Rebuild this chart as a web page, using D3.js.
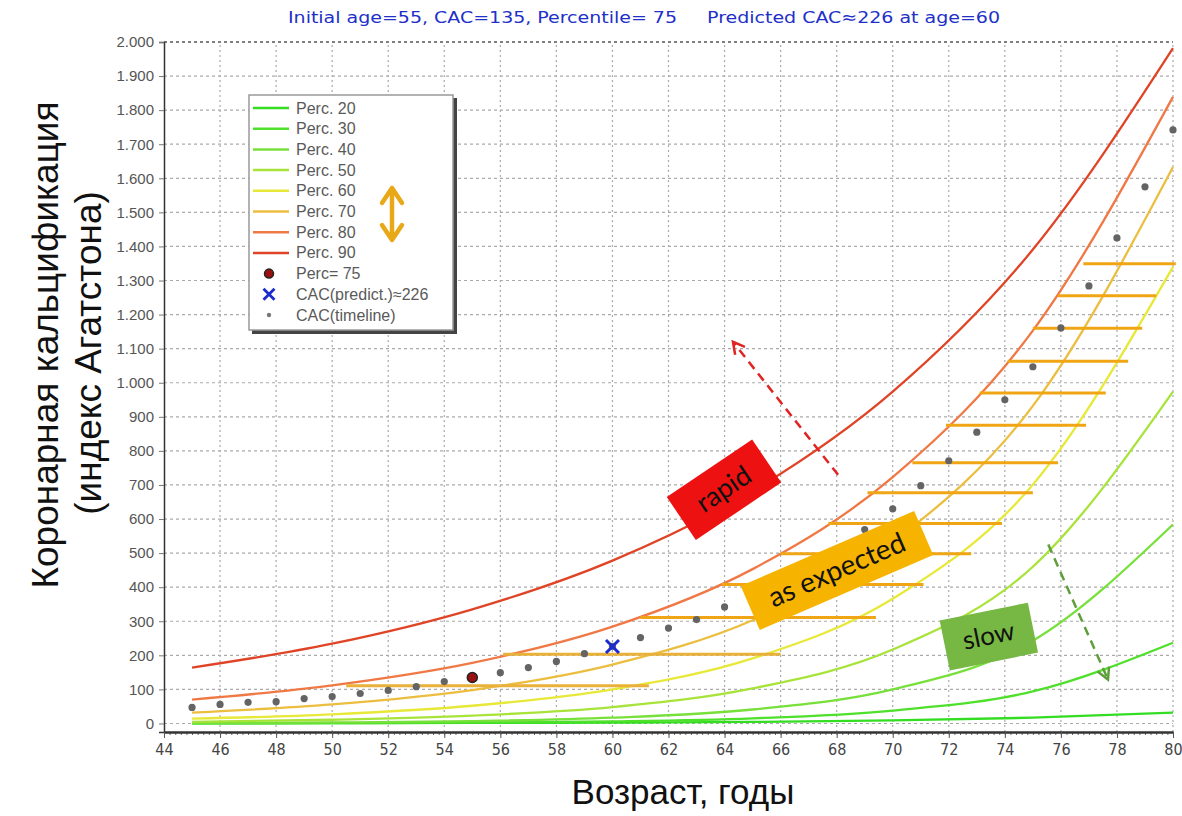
<!DOCTYPE html>
<html>
<head>
<meta charset="utf-8">
<script src="https://cdn.jsdelivr.net/npm/d3@7"></script>
<style>
  body { margin: 0; background: #fff; }
  svg { display: block; }
</style>
</head>
<body>
<div id="chart"></div>
<script>
// percentile curves, read every 5 years
const ages = [45, 50, 55, 60, 65, 70, 75, 80];
const perc20 = [0.5, 1, 1.5, 2.5, 4.5, 9, 17, 32];
const perc30 = [0.4, 1, 2.4, 6, 15, 38, 94, 237];
const perc40 = [1, 3, 7, 17, 41, 100, 243, 584];
const perc50 = [5, 11, 23, 48, 103, 217, 460, 974];
const perc60 = [14, 27, 52, 100, 191, 366, 701, 1340];
const perc70 = [32, 56, 98, 173, 303, 532, 932, 1633];
const perc80 = [70, 112, 178, 284, 453, 723, 1153, 1839];
const perc90 = [164, 234, 335, 478, 682, 974, 1391, 1982];
const percNames = ["Perc. 20", "Perc. 30", "Perc. 40", "Perc. 50", "Perc. 60", "Perc. 70", "Perc. 80", "Perc. 90"];
const percColors = ["#33dd22", "#4ee02a", "#77e03a", "#a8e33a", "#e8e838", "#ecbe40", "#f07844", "#e04426"];

// CAC timeline dots
const timelineAges = [45, 46, 47, 48, 49, 50, 51, 52, 53, 54, 55, 56, 57, 58, 59, 60, 61, 62,
  63, 64, 65, 66, 67, 68, 69, 70, 71, 72, 73, 74, 75, 76, 77, 78, 79, 80];
const timelineCAC = [47, 56, 62, 64, 73, 79, 88, 97, 108, 123, 135, 149, 164, 182, 205, 226, 252, 280,
  305, 342, 378, 418, 462, 512, 569, 630, 698, 771, 855, 950, 1047, 1161, 1284, 1425, 1575, 1742];

// the patient
const initAge = 55, initCAC = 135;
const predAge = 60, predCAC = 226;

// "as expected" hatching between perc 80 and perc 60
const hatchLevels = [111, 203, 311, 408, 498, 587, 677, 765, 875, 970, 1063, 1160, 1255, 1349];
const hatchFrom = [50.5, 56.1, 61.0, 63.9, 66.0, 67.7, 69.1, 70.7, 71.9, 73.1, 74.1, 75.0, 75.9, 76.8];
const hatchTo = [61.3, 66.0, 69.4, 71.1, 72.8, 73.9, 75.0, 75.9, 76.9, 77.6, 78.4, 78.9, 79.4, 80.1];

const xTicks = [44, 46, 48, 50, 52, 54, 56, 58, 60, 62, 64, 66, 68, 70, 72, 74, 76, 78, 80];

const W = 1182, H = 816;
const svg = d3.select("#chart").append("svg").attr("width", W).attr("height", H);

const x = d3.scaleLinear().domain([44, 80]).range([164, 1173]);
const y = d3.scaleLinear().domain([-25, 2000]).range([732, 42]);

const loc = d3.formatLocale({ decimal: ",", thousands: ".", grouping: [3], currency: ["", ""] });
const fmt = loc.format(",d");

// grid
const grid = svg.append("g");
grid.selectAll("line.h")
  .data(d3.range(0, 2001, 100))
  .enter().append("line")
  .attr("x1", x(44)).attr("x2", x(80))
  .attr("y1", d => y(d)).attr("y2", d => y(d))
  .attr("stroke", d => d === 2000 ? "#555" : "#aaa")
  .attr("stroke-width", d => d === 2000 ? 1.5 : 1.2)
  .attr("stroke-dasharray", "3,3");
grid.selectAll("line.v")
  .data(xTicks.slice(1))
  .enter().append("line")
  .attr("x1", d => x(d)).attr("x2", d => x(d))
  .attr("y1", y(-25)).attr("y2", y(2000))
  .attr("stroke", "#aaa")
  .attr("stroke-width", 1.2)
  .attr("stroke-dasharray", "2,3");

// axes
const yAxis = svg.append("g")
  .attr("transform", "translate(" + x(44) + ",0)")
  .call(d3.axisLeft(y).tickValues(d3.range(0, 2001, 100)).tickFormat(fmt).tickSize(5).tickPadding(5));
yAxis.select(".domain").attr("stroke", "#333").attr("stroke-width", 1.5);
yAxis.selectAll(".tick line").attr("stroke", "#777");
yAxis.selectAll("text")
  .attr("fill", "#555")
  .style("font-family", "'Liberation Sans', Arial, sans-serif")
  .style("font-size", "15px");

const xMinor = svg.append("g")
  .attr("transform", "translate(0," + y(-25) + ")")
  .call(d3.axisBottom(x).ticks(180).tickSize(3).tickFormat(""));
xMinor.select(".domain").remove();
xMinor.selectAll(".tick line").attr("stroke", "#666");

const xAxis = svg.append("g")
  .attr("transform", "translate(0," + y(-25) + ")")
  .call(d3.axisBottom(x).tickValues(xTicks).tickSize(6).tickPadding(6).tickSizeOuter(0));
xAxis.select(".domain").attr("stroke", "#333").attr("stroke-width", 2.5);
xAxis.selectAll(".tick line").attr("stroke", "#555");
xAxis.selectAll("text")
  .attr("fill", "#444")
  .style("font-family", "'Liberation Sans Narrow', 'DejaVu Sans Condensed', sans-serif")
  .style("font-size", "16px");

// percentile curves
const percSeries = [perc20, perc30, perc40, perc50, perc60, perc70, perc80, perc90];
const line = d3.line()
  .x((d, i) => x(ages[i]))
  .y(d => y(d))
  .curve(d3.curveMonotoneX);
svg.append("g").selectAll("path")
  .data(percSeries)
  .enter().append("path")
  .attr("d", d => line(d))
  .attr("fill", "none")
  .attr("stroke", (d, i) => percColors[i])
  .attr("stroke-width", 2.3);

// hatching
svg.append("g").selectAll("line")
  .data(hatchLevels)
  .enter().append("line")
  .attr("x1", (d, i) => x(hatchFrom[i]))
  .attr("x2", (d, i) => x(hatchTo[i]))
  .attr("y1", d => y(d)).attr("y2", d => y(d))
  .attr("stroke", (d, i) => i < 2 ? "#e9b13a" : "#f0a515")
  .attr("stroke-width", 3);

// timeline dots
svg.append("g").selectAll("circle")
  .data(timelineCAC)
  .enter().append("circle")
  .attr("cx", (d, i) => x(timelineAges[i]))
  .attr("cy", d => y(d))
  .attr("r", 3.6)
  .attr("fill", "#646464");

// initial point and predicted point
svg.append("circle")
  .attr("cx", x(initAge)).attr("cy", y(initCAC))
  .attr("r", 5)
  .attr("fill", "#9a1010").attr("stroke", "#222").attr("stroke-width", 1.5);

function cross(g, cx, cy, s, col, w) {
  g.append("path")
    .attr("d", "M" + (cx - s) + "," + (cy - s) + "L" + (cx + s) + "," + (cy + s) +
      "M" + (cx - s) + "," + (cy + s) + "L" + (cx + s) + "," + (cy - s))
    .attr("stroke", col).attr("stroke-width", w).attr("fill", "none");
}
cross(svg, x(predAge), y(predCAC), 6.5, "#1b2bd0", 3);

// dashed arrows
function dashedArrow(a0, v0, a1, v1, col) {
  const x0 = x(a0), y0 = y(v0), x1 = x(a1), y1 = y(v1);
  const ang = Math.atan2(y1 - y0, x1 - x0);
  const L = 13, sp = 0.5;
  svg.append("line")
    .attr("x1", x0).attr("y1", y0).attr("x2", x1).attr("y2", y1)
    .attr("stroke", col).attr("stroke-width", 2.5).attr("stroke-dasharray", "9,6");
  svg.append("path")
    .attr("d", "M" + (x1 - L * Math.cos(ang - sp)) + "," + (y1 - L * Math.sin(ang - sp)) +
      "L" + x1 + "," + y1 +
      "L" + (x1 - L * Math.cos(ang + sp)) + "," + (y1 - L * Math.sin(ang + sp)))
    .attr("fill", "none").attr("stroke", col).attr("stroke-width", 2.5);
}
dashedArrow(68.05, 730, 64.3, 1120, "#e02424");
dashedArrow(75.55, 525, 77.68, 129, "#5f9e3c");

// label boxes
function tag(age, val, w, h, ang, fill, label, fs) {
  const g = svg.append("g")
    .attr("transform", "translate(" + x(age) + "," + y(val) + ") rotate(" + ang + ")");
  g.append("rect")
    .attr("x", -w / 2).attr("y", -h / 2).attr("width", w).attr("height", h)
    .attr("fill", fill);
  g.append("text")
    .attr("text-anchor", "middle").attr("dominant-baseline", "central")
    .attr("y", -2)
    .style("font-family", "Lato, 'Open Sans', sans-serif")
    .style("font-size", fs + "px")
    .attr("fill", "#111")
    .text(label);
}
tag(63.98, 686, 103, 52, -34, "#ee1111", "rapid", 27);
tag(68.01, 449, 189, 48, -23.4, "#f6b400", "as expected", 28);
tag(73.43, 255, 90, 51, -11.5, "#76b843", "slow", 26);

// legend
const lg = svg.append("g").attr("transform", "translate(249,95)");
lg.append("rect").attr("x", 3).attr("y", 3).attr("width", 205).attr("height", 236).attr("fill", "#444");
lg.append("rect").attr("width", 204).attr("height", 235)
  .attr("fill", "#fff").attr("stroke", "#999").attr("stroke-width", 1.5);
const rowH = 20.7, row0 = 13;
percNames.forEach((name, i) => {
  const ry = row0 + i * rowH;
  lg.append("line").attr("x1", 4).attr("x2", 40).attr("y1", ry).attr("y2", ry)
    .attr("stroke", percColors[i]).attr("stroke-width", 2.5);
});
const legendTexts = percNames.concat(["Perc= 75", "CAC(predict.)\u2248226", "CAC(timeline)"]);
lg.selectAll("text.lab")
  .data(legendTexts)
  .enter().append("text")
  .attr("x", 47)
  .attr("y", (d, i) => row0 + i * rowH)
  .attr("dominant-baseline", "central")
  .attr("fill", "#5a5a5a")
  .style("font-family", "'Liberation Sans', Arial, sans-serif")
  .style("font-size", "16px")
  .text(d => d);
lg.append("circle").attr("cx", 20).attr("cy", row0 + 8 * rowH).attr("r", 4.5)
  .attr("fill", "#9a1010").attr("stroke", "#222").attr("stroke-width", 1.5);
cross(lg, 20, row0 + 9 * rowH, 5.5, "#1b2bd0", 2.8);
lg.append("circle").attr("cx", 20).attr("cy", row0 + 10 * rowH).attr("r", 2.2).attr("fill", "#777");

// double arrow in legend
lg.append("path")
  .attr("d", "M143,93 L133,108 M143,93 L153,108 M143,93 L143,145 M143,145 L133,130 M143,145 L153,130")
  .attr("fill", "none").attr("stroke", "#e8a818").attr("stroke-width", 4.5)
  .attr("stroke-linecap", "round").attr("stroke-linejoin", "round");

// title
svg.append("text").attr("x", 288).attr("y", 23)
  .attr("textLength", 712).attr("lengthAdjust", "spacingAndGlyphs")
  .style("white-space", "pre")
  .attr("fill", "#2230c8")
  .style("font-family", "'DejaVu Sans Condensed', Tahoma, sans-serif")
  .style("font-size", "16px")
  .text("Initial age=55, CAC=135, Percentile= 75     Predicted CAC\u2248226 at age=60");

// axis titles
const aFont = "'Liberation Sans', Arial, sans-serif";
svg.append("text")
  .attr("transform", "translate(45,345) rotate(-90)")
  .attr("text-anchor", "middle").attr("dominant-baseline", "central")
  .style("font-family", aFont).style("font-size", "37px").attr("fill", "#111")
  .text("Коронарная кальцификация");
svg.append("text")
  .attr("transform", "translate(88,353) rotate(-90)")
  .attr("text-anchor", "middle").attr("dominant-baseline", "central")
  .style("font-family", aFont).style("font-size", "37px").attr("fill", "#111")
  .text("(индекс Агатстона)");
svg.append("text")
  .attr("x", 683).attr("y", 804)
  .attr("text-anchor", "middle")
  .style("font-family", aFont).style("font-size", "35px").attr("fill", "#111")
  .text("Возраст, годы");
</script>
</body>
</html>
